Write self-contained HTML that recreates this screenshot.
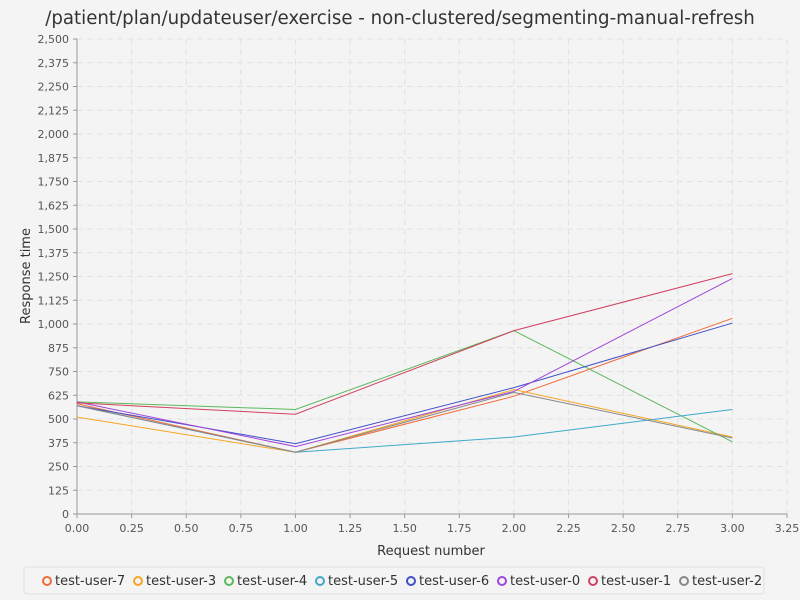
<!DOCTYPE html>
<html><head><meta charset="utf-8"><style>
body{margin:0;background:#f4f4f4;font-family:"DejaVu Sans","Liberation Sans",sans-serif;}
svg{display:block}
</style></head><body>
<svg id="chart" width="800" height="600" xmlns="http://www.w3.org/2000/svg">
<rect width="800" height="600" fill="#f4f4f4"/>
<text x="400" y="24" text-anchor="middle" font-size="18.2" fill="#333">/patient/plan/updateuser/exercise - non-clustered/segmenting-manual-refresh</text>
<g id="grid"></g><g id="axes"></g><g id="series"></g>
<text x="431" y="555" text-anchor="middle" font-size="13" fill="#333">Request number</text>
<text transform="translate(30,276) rotate(-90)" text-anchor="middle" font-size="13" fill="#333">Response time</text>
<rect x="24" y="567" width="740" height="27" rx="3" fill="#f4f4f4" stroke="#e0e0e0"/>
<g id="legend"></g>
</svg>
<script>
const xCategories=[0,1,2,3];
const seriesNames=["test-user-7","test-user-3","test-user-4","test-user-5","test-user-6","test-user-0","test-user-1","test-user-2"];
const seriesColors=["#f26b38","#f5a623","#5cb85c","#3fa9c9","#3f51c9","#a046d8","#d0415f","#888888"];
const user7=[580,325,620,1030];
const user3=[510,325,655,405];
const user4=[590,550,965,380];
const user5=[570,325,405,550];
const user6=[570,370,665,1005];
const user0=[590,355,645,1240];
const user1=[585,525,965,1265];
const user2=[570,325,640,400];
const xTicks=[0,0.25,0.5,0.75,1,1.25,1.5,1.75,2,2.25,2.5,2.75,3,3.25];
const yTicks=[0,125,250,375,500,625,750,875,1000,1125,1250,1375,1500,1625,1750,1875,2000,2125,2250,2375,2500];
const allSeries=[user7,user3,user4,user5,user6,user0,user1,user2];
const NS="http://www.w3.org/2000/svg";
const X0=77,X1=787,Y0=514,Y1=39;
const xs=v=>X0+(v/3.25)*(X1-X0);
const ys=v=>Y0-(v/2500)*(Y0-Y1);
function mk(t,a,p){const e=document.createElementNS(NS,t);for(const k in a)e.setAttribute(k,a[k]);p.appendChild(e);return e;}
const grid=document.getElementById('grid'),axes=document.getElementById('axes'),ser=document.getElementById('series'),leg=document.getElementById('legend');
yTicks.forEach(v=>{
 const l=mk('line',{x1:X0,x2:X1,y1:ys(v),y2:ys(v),stroke:'#e2e2e2','stroke-dasharray':'6,4'},grid);
 
 
 const t=mk('text',{x:X0-8,y:ys(v)+4,'text-anchor':'end','font-size':11,fill:'#555'},axes);
 t.textContent=v.toLocaleString('en-US');
 
 
 mk('line',{x1:X0-4,x2:X0,y1:ys(v),y2:ys(v),stroke:'#999'},axes);
});
xTicks.forEach(v=>{
 const l=mk('line',{x1:xs(v),x2:xs(v),y1:Y1,y2:Y0,stroke:'#e2e2e2','stroke-dasharray':'6,4'},grid);
 
 
 const t=mk('text',{x:xs(v),y:Y0+18,'text-anchor':'middle','font-size':11,fill:'#555'},axes);
 t.textContent=v.toFixed(2);
 
 
 mk('line',{x1:xs(v),x2:xs(v),y1:Y0,y2:Y0+4,stroke:'#999'},axes);
});
mk('line',{x1:X0,x2:X1,y1:Y0,y2:Y0,stroke:'#999'},axes);
mk('line',{x1:X0,x2:X0,y1:Y1,y2:Y0,stroke:'#999'},axes);
allSeries.forEach((d,i)=>{
 const p=mk('polyline',{points:d.map((v,j)=>xs(xCategories[j])+','+ys(v)).join(' '),fill:'none',stroke:seriesColors[i],'stroke-width':1},ser);
 
 
});
let lx=38;
seriesNames.forEach((n,i)=>{
 const g=mk('g',{},leg);
 
 
 mk('circle',{cx:lx+9,cy:581,r:4,fill:'none',stroke:seriesColors[i],'stroke-width':2},g);
 const t=mk('text',{x:lx+17,y:585,'font-size':13,fill:'#333'},g);
 t.textContent=n;
 lx+=91;
});
</script>
</body></html>
